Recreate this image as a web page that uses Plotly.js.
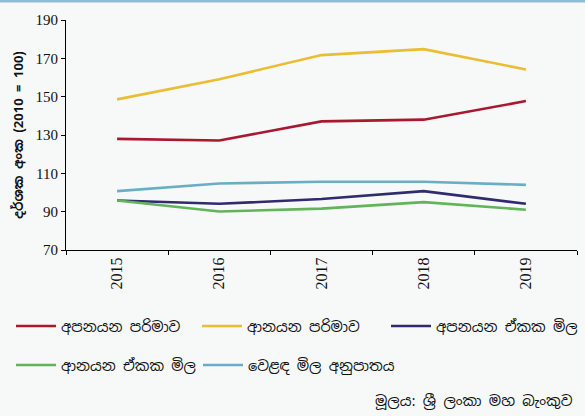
<!DOCTYPE html>
<html>
<head>
<meta charset="utf-8">
<script src="https://cdn.plot.ly/plotly-3.0.1.min.js"></script>
<style>
html,body{margin:0;padding:0;background:#f7f9f9;}
#chart{width:585px;height:416px;}
</style>
</head>
<body>
<div id="chart"></div>
<script>
const years = ['2015', '2016', '2017', '2018', '2019'];
const seriesNames = ['අපනයන පරිමාව', 'ආනයන පරිමාව', 'අපනයන ඒකක මිල', 'ආනයන ඒකක මිල', 'වෙළඳ මිල අනුපාතය'];
const exportVolume = [128.0, 127.1, 137.1, 138.0, 147.7];
const importVolume = [148.6, 159.1, 171.7, 174.8, 164.2];
const exportUnitPrice = [95.8, 94.1, 96.6, 100.7, 94.1];
const importUnitPrice = [95.8, 90.1, 91.6, 95.0, 91.0];
const termsOfTrade = [100.7, 104.7, 105.6, 105.6, 104.0];
const yTicks = [70, 90, 110, 130, 150, 170, 190];
const yTitle = 'දර්ශක අංක (2010 = 100)';
const sourceText = 'මූලය: ශ්‍රී ලංකා මහ බැංකුව';

const colors = ['#a8192f', '#eabd32', '#2f2b6e', '#62b45a', '#6aaec6'];
const values = [exportVolume, importVolume, exportUnitPrice, importUnitPrice, termsOfTrade];
const legendIds = ['legend', 'legend2', 'legend3', 'legend4', 'legend5'];

const traces = values.map((v, i) => ({
  x: years, y: v, type: 'scatter', mode: 'lines', name: seriesNames[i],
  line: {color: colors[i], width: 2.6}, legend: legendIds[i]
}));

const sinhalaFont = '"Noto Sans Sinhala", "Noto Sans", "DejaVu Sans", sans-serif';
const W = 585, H = 416;
function leg(px, py) {
  return {
    orientation: 'h', xref: 'container', yref: 'container', xanchor: 'left', yanchor: 'middle',
    x: px / W, y: 1 - py / H, bgcolor: 'rgba(0,0,0,0)',
    font: {family: sinhalaFont, size: 14.5, color: '#111'}, itemwidth: 40
  };
}

const layout = {
  width: W, height: H,
  paper_bgcolor: '#f7f9f9', plot_bgcolor: '#f7f9f9',
  margin: {l: 66, r: 8, t: 20, b: 166},
  showlegend: true,
  xaxis: {
    type: 'category', range: [-0.5, 4.5], tickson: 'boundaries',
    showline: true, linecolor: '#000', linewidth: 1,
    ticks: 'outside', ticklen: 4, tickcolor: '#000',
    tickangle: -90, showgrid: false, zeroline: false,
    tickfont: {family: '"Liberation Serif", serif', size: 16, color: '#111'}
  },
  yaxis: {
    range: [70, 190], tickvals: yTicks, ticktext: yTicks.map(String),
    showline: true, linecolor: '#000', linewidth: 1,
    ticks: 'outside', ticklen: 4, tickcolor: '#000', showgrid: false, zeroline: false,
    tickfont: {family: '"Liberation Serif", serif', size: 15, color: '#111'},
    title: {text: '<b>' + yTitle + '</b>', standoff: 8,
      font: {family: sinhalaFont, size: 13, color: '#111'}}
  },
  legend: leg(11, 326),
  legend2: leg(197, 326),
  legend3: leg(386, 326),
  legend4: leg(11, 365),
  legend5: leg(198, 365),
  annotations: [{
    text: sourceText, xref: 'paper', yref: 'paper', x: (575 - 66) / 511, y: (250 - 400) / 230,
    xanchor: 'right', yanchor: 'middle', showarrow: false,
    font: {family: sinhalaFont, size: 14.5, color: '#111'}
  }],
  shapes: [{
    type: 'line', xref: 'paper', yref: 'paper', x0: -0.2, x1: 1.1,
    y0: 1 + 19 / 230, y1: 1 + 19 / 230, line: {color: '#8dbdd5', width: 3}
  }]
};

Plotly.newPlot('chart', traces, layout, {displayModeBar: false, responsive: false});
</script>
</body>
</html>
